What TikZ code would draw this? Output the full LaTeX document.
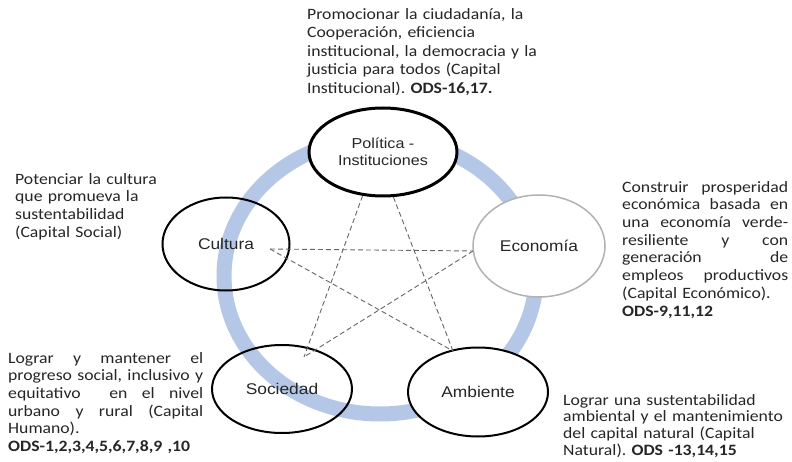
\documentclass[tikz,border=0pt]{standalone}
\usepackage{fontspec}
\setmainfont{Carlito}[FakeStretch=1.12]
\newfontfamily\labelfont{Liberation Sans}[FakeStretch=1.12]
\usetikzlibrary{shapes.geometric}
\frenchspacing

\definecolor{ringblue}{RGB}{180,199,231}

% one justified line of a text block: #1 = width
\newcommand{\jline}[2]{\makebox[#1][s]{\spaceskip=\fontdimen2\font plus 1fil\relax #2}\\}

\begin{document}
\begin{tikzpicture}[x=1pt, y=-1pt,
    ring/.style={draw=ringblue, line width=15pt},
    pillar/.style={ellipse, draw=black, line width=2pt, inner sep=0pt, align=center,
        text=black!85, font=\labelfont\fontsize{15.5}{17}\selectfont},
    goal/.style={anchor=north west, inner sep=0pt, align=left, text=black!85,
        font=\fontsize{15.8}{17.7}\selectfont},
    link/.style={draw=black!60, line width=0.9pt, dash pattern=on 5pt off 3pt}]

    \useasboundingbox (0,0) rectangle (792,462);
    \fill[white] (0,0) rectangle (792,462);

    % ring behind the pillars
    \draw[ring] (380,276) ellipse [x radius=156, y radius=138];

    % pillars
    \node[pillar, fill=white, line width=3pt, minimum width=148pt, minimum height=88pt,
        font=\labelfont\fontsize{14.4}{17}\selectfont] (pol) at (383,152) {Política -\\Instituciones};
    \node[pillar, minimum width=127pt, minimum height=93pt] (cul) at (226,244) {Cultura};
    \node[pillar, fill=white, draw=black!30, line width=1.5pt, minimum width=132pt,
        minimum height=102pt] (eco) at (539,246) {Economía};
    \node[pillar, minimum width=140pt, minimum height=88pt] (soc) at (282,389) {Sociedad};
    \node[pillar, fill=white, minimum width=140pt, minimum height=89pt] (amb) at (478,392) {Ambiente};

    % star points
    \coordinate (culPt) at (270,249);
    \coordinate (ecoPt) at (473,251);
    \coordinate (socPt) at (304,357);
    \coordinate (ambPt) at (453,351);

    % dashed star
    \draw[link] (culPt) -- (ecoPt);
    \draw[link] (culPt) -- (ambPt);
    \draw[link] (pol.245) -- (socPt);
    \draw[link] (pol.283) -- (ambPt);
    \draw[link] (ecoPt) -- (socPt);

    % goals
    \node[goal, text width=250pt, font=\fontsize{15.8}{18.5}\selectfont] (polTxt) at (307,8)
        {Promocionar la ciudadanía, la\\Cooperación, eficiencia\\institucional, la democracia y la\\justicia para todos (Capital\\Institucional). \textbf{ODS-16,17.}};
    \node[goal, text width=160pt] (culTxt) at (15,173)
        {Potenciar la cultura\\que promueva la\\sustentabilidad\\(Capital Social)};
    \node[goal, text width=166pt] (ecoTxt) at (622,181)
        {\jline{166pt}{Construir prosperidad}\jline{166pt}{económica basada en}\jline{166pt}{una economía verde-}%
         \jline{166pt}{resiliente y con}\jline{166pt}{generación de}\jline{166pt}{empleos productivos}%
         (Capital Económico).\\\textbf{ODS-9,11,12}};
    \node[goal, text width=195pt] (socTxt) at (8,352)
        {\jline{195pt}{Lograr y mantener el}\jline{195pt}{progreso social, inclusivo y}%
         \jline{195pt}{equitativo \ en el nivel}\jline{195pt}{urbano y rural (Capital}%
         Humano).\\\textbf{ODS-1,2,3,4,5,6,7,8,9 ,10}};
    \node[goal, text width=230pt, font=\fontsize{15.8}{16.8}\selectfont] (ambTxt) at (563,394)
        {Lograr una sustentabilidad\\ambiental y el mantenimiento\\del capital natural (Capital\\Natural). \textbf{ODS -13,14,15}};
\end{tikzpicture}
\end{document}
